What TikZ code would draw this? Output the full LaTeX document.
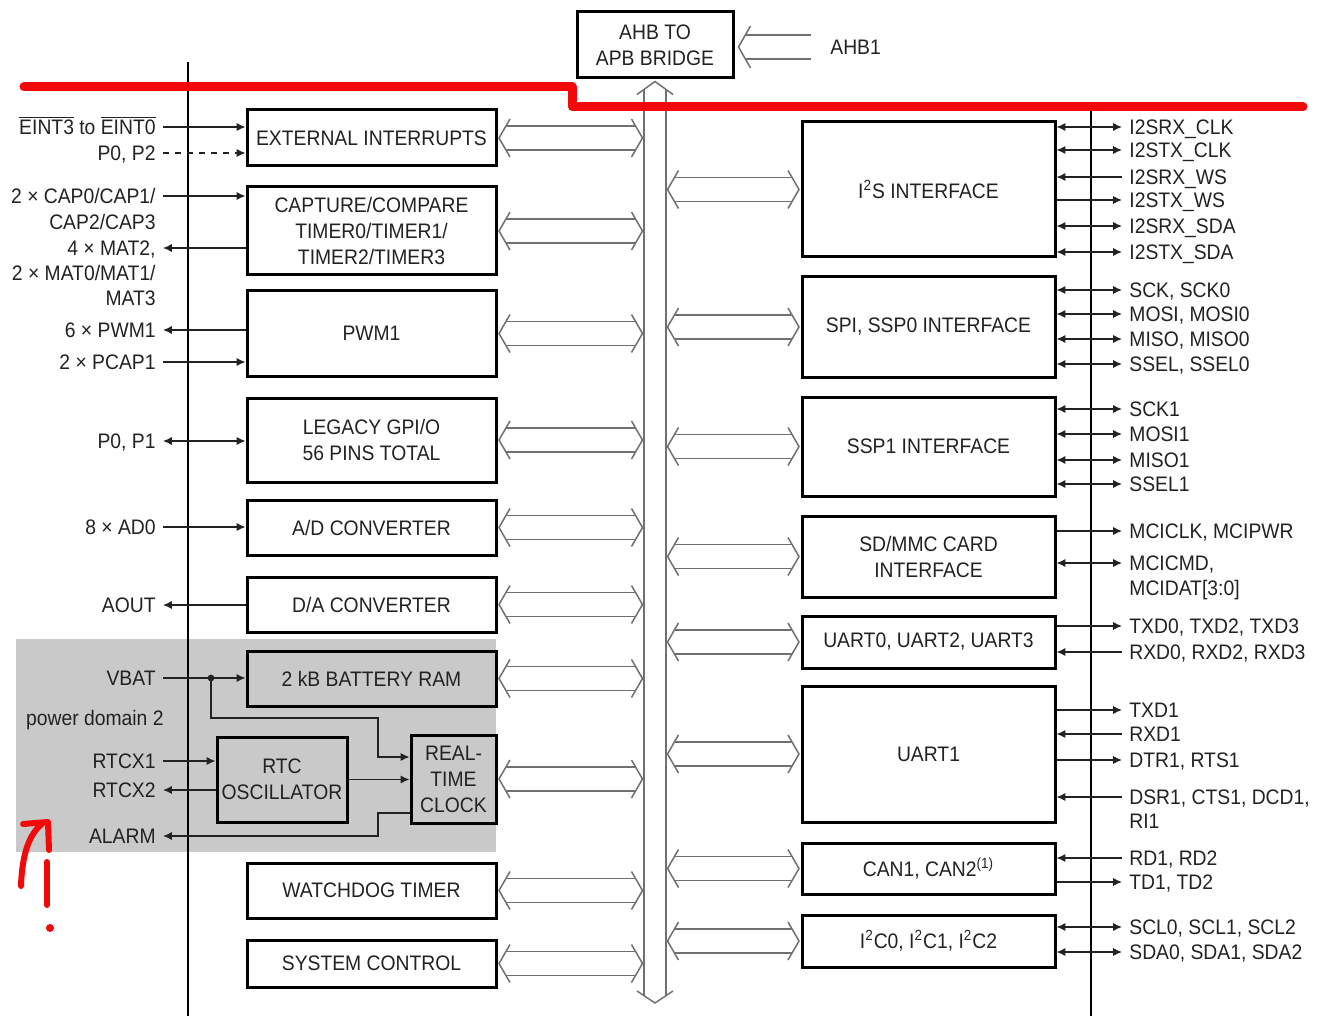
\documentclass[tikz,border=0pt]{standalone}
\usepackage{fontspec}
\setmainfont{Liberation Sans}[FakeStretch=0.92]
\usetikzlibrary{arrows.meta,calc}
\definecolor{txt}{HTML}{222222}
\definecolor{busc}{HTML}{707070}
\definecolor{pdgray}{HTML}{C9C9C9}
\definecolor{redm}{HTML}{F20A0A}
\tikzset{
  blk/.style={draw=black, line width=1.5pt, inner sep=0pt, align=center, text=txt},
  busline/.style={draw=busc, line width=0.75pt},
  sig/.style={draw=txt, line width=0.6pt},
  lbl/.style={text=txt, inner xsep=3.5pt, inner ysep=0pt, text height=7.5pt, text depth=0pt},
  ll/.style={lbl, anchor=east},
  rl/.style={lbl, anchor=west},
  redpen/.style={draw=redm, line cap=round, line join=round},
}
% block from pixel corners
\newcommand\blknode[7]{%
  \node[blk,#1,minimum width={(#5-#3)*0.5pt},minimum height={(#6-#4)*0.5pt}]
    (#2) at ({(#3+#5)/2},{(#4+#6)/2}) {#7};}
\newcommand\busarrow[2]{%
  \path ($(#1)+(1.5,0)$) coordinate (ba1) ($(#2)+(-1.5,0)$) coordinate (ba2);
  \draw[busline] ($(ba1)+(11,-19)$) -- (ba1) -- ($(ba1)+(11,19)$);
  \draw[busline] ($(ba2)+(-11,-19)$) -- (ba2) -- ($(ba2)+(-11,19)$);
  \draw[busline] ($(ba1)+(7,-12)$) -- ($(ba2)+(-7,-12)$);
  \draw[busline] ($(ba1)+(7,12)$) -- ($(ba2)+(-7,12)$);
}
\begin{document}
\begin{tikzpicture}[x=0.5pt,y=-0.5pt, font=\fontsize{10.5}{13}\selectfont,
  >={Latex[length=4.4pt,width=4pt]}]
\useasboundingbox (0,0) rectangle (1323,1016);
\fill[white] (0,0) rectangle (1323,1016);

% power domain 2 region
\fill[pdgray] (16,639) rectangle (496,852);

% frame lines
\draw[line width=1.3pt] (188,62) -- (188,1016);
\draw[line width=1.3pt] (1091,107) -- (1091,1016);

% bridge
\blknode{}{ahb}{577}{12}{733}{78}{AHB TO\\APB BRIDGE}
\node[rl] (ahb1) at (823,47) {AHB1};
\path ($(ahb.east |- ahb1.west)+(4,0)$) coordinate (at1) ($(ahb1.west)+(-12,0)$) coordinate (at2);
\draw[busline] ($(at1)+(12,-21)$) -- (at1) -- ($(at1)+(12,21)$);
\draw[busline] ($(at1)+(7,-12)$) -- ($(at2)+(0,-12)$);
\draw[busline] ($(at1)+(7,12)$) -- ($(at2)+(0,12)$);

% vertical APB bus
\coordinate (bustop) at ($(ahb.south)+(0,2)$);
\coordinate (busbot) at (655,1003);
\coordinate (busL) at ($(bustop)+(-11,0)$);
\coordinate (busR) at ($(bustop)+(11,0)$);
\draw[busline] ($(bustop)+(-18,13)$) -- (bustop) -- ($(bustop)+(18,13)$);
\draw[busline] ($(busbot)+(-18,-12)$) -- (busbot) -- ($(busbot)+(18,-12)$);
\draw[busline] ($(bustop)+(-11,8)$) -- ($(busbot)+(-11,-7)$);
\draw[busline] ($(bustop)+(11,8)$) -- ($(busbot)+(11,-7)$);

% left blocks
\blknode{}{ext}{247}{110}{496}{166}{EXTERNAL INTERRUPTS}
\blknode{}{cap}{247}{187}{496}{275}{CAPTURE/COMPARE\\TIMER0/TIMER1/\\TIMER2/TIMER3}
\blknode{}{pwm}{247}{291}{496}{376}{PWM1}
\blknode{}{gpio}{247}{398}{496}{482}{LEGACY GPI/O\\56 PINS TOTAL}
\blknode{}{adc}{247}{500}{496}{555}{A/D CONVERTER}
\blknode{}{dac}{247}{577}{496}{632}{D/A CONVERTER}
\blknode{fill=pdgray}{bram}{247}{651}{496}{706}{2 kB BATTERY RAM}
\blknode{fill=pdgray}{osc}{217}{737}{347}{822}{RTC\\OSCILLATOR}
\blknode{fill=pdgray}{rtc}{411}{735}{496}{823}{REAL-\\TIME\\CLOCK}
\blknode{}{wdt}{247}{863}{496}{918}{WATCHDOG TIMER}
\blknode{}{sys}{247}{940}{496}{987}{SYSTEM CONTROL}

% right blocks
\blknode{}{i2s}{802}{122}{1055}{257}{I\textsuperscript{2}S INTERFACE}
\blknode{}{spi}{802}{277}{1055}{377}{SPI, SSP0 INTERFACE}
\blknode{}{ssp1}{802}{397}{1055}{496}{SSP1 INTERFACE}
\blknode{}{sd}{802}{516}{1055}{597}{SD/MMC CARD\\INTERFACE}
\blknode{}{u0}{802}{616}{1055}{668}{UART0, UART2, UART3}
\blknode{}{u1}{802}{686}{1055}{822}{UART1}
\blknode{}{can}{802}{843}{1055}{894}{CAN1, CAN2\textsuperscript{(1)}}
\blknode{}{i2c}{802}{915}{1055}{967}{I\textsuperscript{2}C0, I\textsuperscript{2}C1, I\textsuperscript{2}C2}

% bus connections
\foreach \n in {ext,cap,pwm,gpio,adc,dac,bram,rtc,wdt,sys} {\busarrow{\n.east}{\n.east -| busL}}
\foreach \n in {i2s,spi,ssp1,sd,u0,u1,can,i2c} {\busarrow{\n.west -| busR}{\n.west}}

% left labels
\node[ll] (eint) at (163,127) {$\overline{\hbox{EINT3}}$ to $\overline{\hbox{EINT0}}$};
\node[ll] (p02) at (163,153) {P0, P2};
\node[ll] (cap1) at (163,196) {2 × CAP0/CAP1/};
\node[ll] (cap2) at (163,222) {CAP2/CAP3};
\node[ll] (mat1) at (163,248) {4 × MAT2,};
\node[ll] (mat2) at (163,273) {2 × MAT0/MAT1/};
\node[ll] (mat3) at (163,298) {MAT3};
\node[ll] (pwmo) at (163,330) {6 × PWM1};
\node[ll] (pcap) at (163,362) {2 × PCAP1};
\node[ll] (p01) at (163,441) {P0, P1};
\node[ll] (ad) at (163,527) {8 × AD0};
\node[ll] (aout) at (163,605) {AOUT};
\node[ll] (vbat) at (163,678) {VBAT};
\node[ll] (pd) at (171,718) {power domain 2};
\node[ll] (rtcx1) at (163,761) {RTCX1};
\node[ll] (rtcx2) at (163,790) {RTCX2};
\node[ll] (alarm) at (163,836) {ALARM};

\draw[sig,->] (eint.east) -- (ext.west |- eint.east);
\draw[sig,->,dash pattern=on 3pt off 3pt] (p02.east) -- (ext.west |- p02.east);
\draw[sig,->] (cap1.east) -- (cap.west |- cap1.east);
\draw[sig,<-] (mat1.east) -- (cap.west |- mat1.east);
\draw[sig,<-] (pwmo.east) -- (pwm.west |- pwmo.east);
\draw[sig,->] (pcap.east) -- (pwm.west |- pcap.east);
\draw[sig,<->] (p01.east) -- (gpio.west |- p01.east);
\draw[sig,->] (ad.east) -- (adc.west |- ad.east);
\draw[sig,<-] (aout.east) -- (dac.west |- aout.east);
\draw[sig,->] (vbat.east) -- (bram.west |- vbat.east);
\coordinate (vdot) at (211,678);
\fill[txt] (vdot) circle (1.7pt);
\draw[sig,->] (vdot) |- (378,718) |- ($(rtc.west)+(0,-22)$);
\draw[sig,->] (rtcx1.east) -- (osc.west |- rtcx1.east);
\draw[sig,<-] (rtcx2.east) -- (osc.west |- rtcx2.east);
\draw[sig,->] (osc.east) -- (rtc.west |- osc.east);
\draw[sig,->] ($(rtc.west)+(0,34)$) -| (378,836) -- (alarm.east);

% right labels
\node[rl] (r1) at (1122,127) {I2SRX\_CLK};
\node[rl] (r2) at (1122,150) {I2STX\_CLK};
\node[rl] (r3) at (1122,177) {I2SRX\_WS};
\node[rl] (r4) at (1122,200) {I2STX\_WS};
\node[rl] (r5) at (1122,226) {I2SRX\_SDA};
\node[rl] (r6) at (1122,252) {I2STX\_SDA};
\node[rl] (r7) at (1122,290) {SCK, SCK0};
\node[rl] (r8) at (1122,314) {MOSI, MOSI0};
\node[rl] (r9) at (1122,339) {MISO, MISO0};
\node[rl] (r10) at (1122,364) {SSEL, SSEL0};
\node[rl] (r11) at (1122,409) {SCK1};
\node[rl] (r12) at (1122,434) {MOSI1};
\node[rl] (r13) at (1122,460) {MISO1};
\node[rl] (r14) at (1122,484) {SSEL1};
\node[rl] (r15) at (1122,531) {MCICLK, MCIPWR};
\node[rl] (r16) at (1122,563) {MCICMD,};
\node[rl] (r16b) at (1122,588) {MCIDAT[3:0]};
\node[rl] (r17) at (1122,626) {TXD0, TXD2, TXD3};
\node[rl] (r18) at (1122,652) {RXD0, RXD2, RXD3};
\node[rl] (r19) at (1122,710) {TXD1};
\node[rl] (r20) at (1122,734) {RXD1};
\node[rl] (r21) at (1122,760) {DTR1, RTS1};
\node[rl] (r22) at (1122,797) {DSR1, CTS1, DCD1,};
\node[rl] (r22b) at (1122,821) {RI1};
\node[rl] (r23) at (1122,858) {RD1, RD2};
\node[rl] (r24) at (1122,882) {TD1, TD2};
\node[rl] (r25) at (1122,927) {SCL0, SCL1, SCL2};
\node[rl] (r26) at (1122,952) {SDA0, SDA1, SDA2};

\draw[sig,<->] (i2s.east |- r1.west) -- (r1.west);
\draw[sig,<->] (i2s.east |- r2.west) -- (r2.west);
\draw[sig,<-] (i2s.east |- r3.west) -- (r3.west);
\draw[sig,->] (i2s.east |- r4.west) -- (r4.west);
\draw[sig,<->] (i2s.east |- r5.west) -- (r5.west);
\draw[sig,<->] (i2s.east |- r6.west) -- (r6.west);
\draw[sig,<->] (spi.east |- r7.west) -- (r7.west);
\draw[sig,<->] (spi.east |- r8.west) -- (r8.west);
\draw[sig,<->] (spi.east |- r9.west) -- (r9.west);
\draw[sig,<->] (spi.east |- r10.west) -- (r10.west);
\draw[sig,<->] (ssp1.east |- r11.west) -- (r11.west);
\draw[sig,<->] (ssp1.east |- r12.west) -- (r12.west);
\draw[sig,<->] (ssp1.east |- r13.west) -- (r13.west);
\draw[sig,<->] (ssp1.east |- r14.west) -- (r14.west);
\draw[sig,->] (sd.east |- r15.west) -- (r15.west);
\draw[sig,<->] (sd.east |- r16.west) -- (r16.west);
\draw[sig,->] (u0.east |- r17.west) -- (r17.west);
\draw[sig,<-] (u0.east |- r18.west) -- (r18.west);
\draw[sig,->] (u1.east |- r19.west) -- (r19.west);
\draw[sig,<-] (u1.east |- r20.west) -- (r20.west);
\draw[sig,->] (u1.east |- r21.west) -- (r21.west);
\draw[sig,<-] (u1.east |- r22.west) -- (r22.west);
\draw[sig,<-] (can.east |- r23.west) -- (r23.west);
\draw[sig,->] (can.east |- r24.west) -- (r24.west);
\draw[sig,<->] (i2c.east |- r25.west) -- (r25.west);
\draw[sig,<->] (i2c.east |- r26.west) -- (r26.west);

% red annotations
\draw[redpen, line width=4.5pt] (24,87) -- (572,87) -- (572,107) -- (1303,107);
\draw[redpen, line width=3pt] (21,886) .. controls (22,855) and (29,834) .. (42,824);
\draw[redpen, line width=3pt] (23,824) -- (48,822) -- (49,850);
\draw[redpen, line width=3pt] (47,862) -- (47,905);
\fill[redm] (50,928) circle (2pt);
\end{tikzpicture}
\end{document}
